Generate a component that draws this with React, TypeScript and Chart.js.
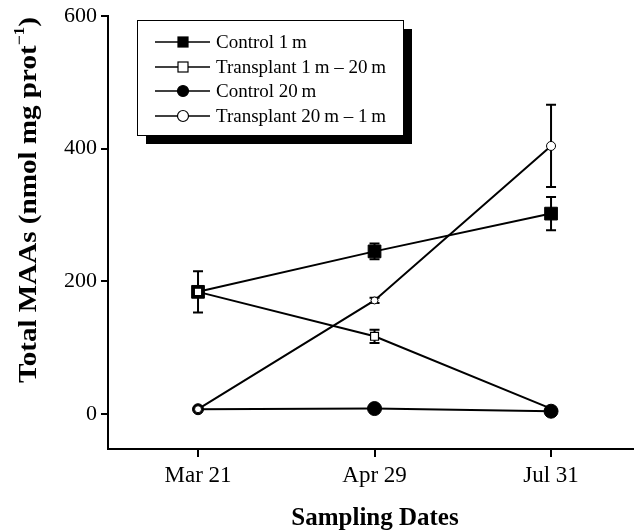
import React, { useEffect, useRef } from "react";
import { Chart, registerables } from "chart.js";

Chart.register(...registerables);

const dates = ["Mar 21", "Apr 29", "Jul 31"];
const yTicks = [0, 200, 400, 600];

const control1m = [184, 245, 302];
const control1mErr = [31, 12, 25];
const transplant1m20m = [184, 117, 8];
const transplant1m20mErr = [0, 10, 0];
const control20m = [7, 8, 4];
const control20mErr = [0, 0, 0];
const transplant20m1m = [7, 171, 404];
const transplant20m1mErr = [0, 4, 62];

const legendLabels = [
  "Control 1\u2009m",
  "Transplant 1\u2009m \u2013 20\u2009m",
  "Control 20\u2009m",
  "Transplant 20\u2009m \u2013 1\u2009m",
];

const SERIF = "'Liberation Serif', 'Times New Roman', serif";

function toPoints(vals: number[]) {
  return vals.map((v, i) => ({ x: i, y: v }));
}

const errorBarPlugin = {
  id: "errorBars",
  beforeDatasetsDraw(chart: any) {
    const ctx = chart.ctx;
    const xs = chart.scales.x;
    const ys = chart.scales.y;
    ctx.save();
    ctx.strokeStyle = "#000";
    ctx.lineWidth = 2;
    chart.data.datasets.forEach((ds: any) => {
      const errs: number[] = ds.errors || [];
      ds.data.forEach((p: any, i: number) => {
        const e = errs[i];
        if (!e) return;
        const px = xs.getPixelForValue(p.x);
        const top = ys.getPixelForValue(p.y + e);
        const bot = ys.getPixelForValue(p.y - e);
        const cw = 5;
        ctx.beginPath();
        ctx.moveTo(px, top);
        ctx.lineTo(px, bot);
        ctx.moveTo(px - cw, top);
        ctx.lineTo(px + cw, top);
        ctx.moveTo(px - cw, bot);
        ctx.lineTo(px + cw, bot);
        ctx.stroke();
      });
    });
    ctx.restore();
  },
};

const decorPlugin = {
  id: "decor",
  afterDraw(chart: any) {
    const ctx = chart.ctx;
    ctx.save();
    // Legend box with shadow
    const bx = 137, by = 20, bw = 266, bh = 115, sh = 9;
    ctx.fillStyle = "#000";
    ctx.fillRect(bx + sh, by + sh, bw, bh);
    ctx.fillStyle = "#fff";
    ctx.fillRect(bx, by, bw, bh);
    ctx.strokeStyle = "#000";
    ctx.lineWidth = 1;
    ctx.strokeRect(bx + 0.5, by + 0.5, bw, bh);

    const rows = [42, 67, 91, 116];
    const styles = [
      { shape: "rect", fill: "#000" },
      { shape: "rect", fill: "#fff" },
      { shape: "circle", fill: "#000" },
      { shape: "circle", fill: "#fff" },
    ];
    rows.forEach((ry, i) => {
      ctx.strokeStyle = "#000";
      ctx.lineWidth = 1.5;
      ctx.beginPath();
      ctx.moveTo(155, ry);
      ctx.lineTo(210, ry);
      ctx.stroke();
      const st = styles[i];
      ctx.fillStyle = st.fill;
      ctx.lineWidth = 1.2;
      if (st.shape === "rect") {
        ctx.fillRect(178, ry - 5, 10, 10);
        ctx.strokeRect(178, ry - 5, 10, 10);
      } else {
        ctx.beginPath();
        ctx.arc(183, ry, 5.5, 0, Math.PI * 2);
        ctx.fill();
        ctx.stroke();
      }
      ctx.fillStyle = "#000";
      ctx.font = `19px ${SERIF}`;
      ctx.textAlign = "left";
      ctx.textBaseline = "middle";
      ctx.fillText(legendLabels[i], 216, ry + 1);
    });

    // X title
    ctx.fillStyle = "#000";
    ctx.font = `bold 25px ${SERIF}`;
    ctx.textAlign = "center";
    ctx.textBaseline = "middle";
    ctx.fillText("Sampling Dates", 375, 519);

    // Y title (rotated, with superscript)
    ctx.translate(30, 200);
    ctx.rotate(-Math.PI / 2);
    const main = "Total MAAs (nmol mg prot";
    const sup = "\u22121";
    const close = ")";
    const big = 25;
    const small = 15;
    ctx.font = `bold ${big}px ${SERIF}`;
    const w1 = ctx.measureText(main).width;
    const w3 = ctx.measureText(close).width;
    ctx.font = `bold ${small}px ${SERIF}`;
    const w2 = ctx.measureText(sup).width;
    const total = w1 + w2 + w3;
    const target = 366;
    ctx.scale(target / total, 1);
    let x0 = -total / 2;
    ctx.textAlign = "left";
    ctx.textBaseline = "middle";
    ctx.font = `bold ${big}px ${SERIF}`;
    ctx.fillText(main, x0, 0);
    ctx.font = `bold ${small}px ${SERIF}`;
    ctx.fillText(sup, x0 + w1, -10);
    ctx.font = `bold ${big}px ${SERIF}`;
    ctx.fillText(close, x0 + w1 + w2, 0);
    ctx.restore();
  },
};

export default function App() {
  const ref = useRef<HTMLCanvasElement>(null);

  useEffect(() => {
    if (!ref.current) return;
    const common = {
      borderColor: "#000",
      borderWidth: 2,
      showLine: true,
      tension: 0,
    };
    const chart = new Chart(ref.current, {
      type: "scatter",
      data: {
        datasets: [
          {
            ...common,
            label: legendLabels[0],
            data: toPoints(control1m),
            errors: control1mErr,
            pointStyle: "rect",
            pointRadius: 9,
            pointBackgroundColor: "#000",
            pointBorderColor: "#000",
            pointBorderWidth: 1,
            order: 3,
          } as any,
          {
            ...common,
            label: legendLabels[1],
            data: toPoints(transplant1m20m),
            errors: transplant1m20mErr,
            pointStyle: "rect",
            pointRadius: [5.2, 5.6, 0],
            pointBackgroundColor: "#fff",
            pointBorderColor: "#000",
            pointBorderWidth: 1.2,
            order: 1,
          } as any,
          {
            ...common,
            label: legendLabels[2],
            data: toPoints(control20m),
            errors: control20mErr,
            pointStyle: "circle",
            pointRadius: [5.5, 7, 7],
            pointBackgroundColor: "#000",
            pointBorderColor: "#000",
            pointBorderWidth: 1,
            order: 2,
          } as any,
          {
            ...common,
            label: legendLabels[3],
            data: toPoints(transplant20m1m),
            errors: transplant20m1mErr,
            pointStyle: "circle",
            pointRadius: [3.5, 3.5, 4.5],
            pointBackgroundColor: "#fff",
            pointBorderColor: "#000",
            pointBorderWidth: 1,
            order: 0,
          } as any,
        ],
      },
      options: {
        animation: false,
        responsive: false,
        layout: { autoPadding: false, padding: { top: 16, left: 0, right: 0, bottom: 0 } },
        plugins: {
          legend: { display: false },
          tooltip: { enabled: false },
        },
        scales: {
          x: {
            type: "linear",
            min: -0.51,
            max: 2.47,
            afterBuildTicks: (s: any) => {
              s.ticks = dates.map((_, i) => ({ value: i }));
            },
            afterFit: (s: any) => {
              s.height = 83;
              s.paddingLeft = 0;
              s.paddingRight = 0;
            },
            grid: {
              drawOnChartArea: false,
              drawTicks: true,
              tickLength: 8,
              color: "#000",
              lineWidth: 2,
            },
            border: { display: true, color: "#000", width: 2 },
            ticks: {
              color: "#000",
              font: { family: SERIF, size: 23 },
              padding: 5,
              maxRotation: 0,
              callback: (v: any) => dates[Math.round(Number(v))] ?? "",
            },
          },
          y: {
            type: "linear",
            min: -53,
            max: 600,
            afterBuildTicks: (s: any) => {
              s.ticks = yTicks.map((v) => ({ value: v }));
            },
            afterFit: (s: any) => {
              s.width = 108;
              s.paddingTop = 0;
              s.paddingBottom = 0;
            },
            grid: {
              drawOnChartArea: false,
              drawTicks: true,
              tickLength: 7,
              color: "#000",
              lineWidth: 2,
            },
            border: { display: true, color: "#000", width: 2 },
            ticks: {
              color: "#000",
              font: { family: SERIF, size: 22 },
              padding: 4,
            },
          },
        },
      } as any,
      plugins: [errorBarPlugin, decorPlugin],
    });
    return () => chart.destroy();
  }, []);

  return (
    <div style={{ position: "absolute", left: 0, top: 0, width: 634, height: 532, background: "#fff" }}>
      <canvas ref={ref} width={634} height={532} style={{ width: 634, height: 532, display: "block" }} />
    </div>
  );
}
